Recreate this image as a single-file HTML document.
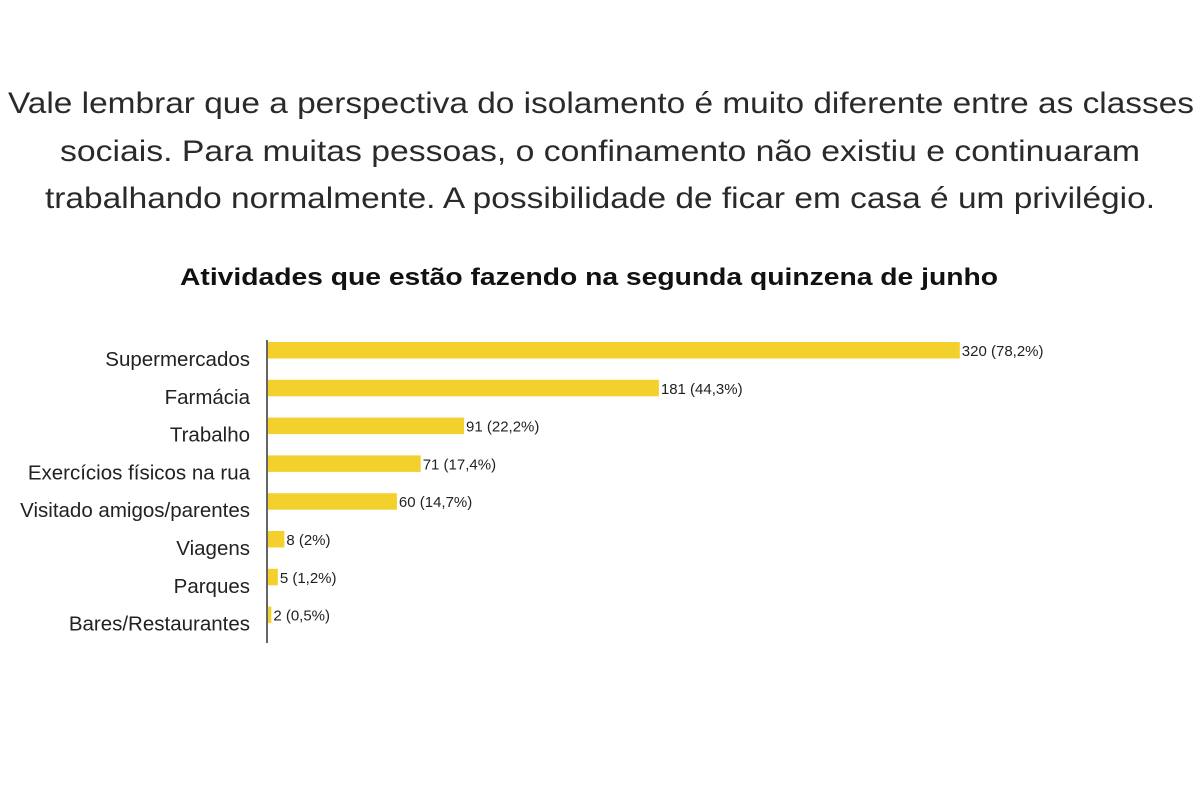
<!DOCTYPE html>
<html><head><meta charset="utf-8"><style>
html,body{margin:0;padding:0;background:#fff;}
svg{display:block;font-family:"Liberation Sans",sans-serif;}
</style></head><body>
<svg id="chart" width="1200" height="799" viewBox="0 0 1200 799">
<g fill="#2a2a2a" font-size="30" text-anchor="middle">
<text x="601" y="113" textLength="1186" lengthAdjust="spacingAndGlyphs">Vale lembrar que a perspectiva do isolamento é muito diferente entre as classes</text>
<text x="600" y="161" textLength="1080" lengthAdjust="spacingAndGlyphs">sociais. Para muitas pessoas, o confinamento não existiu e continuaram</text>
<text x="600" y="208" textLength="1110" lengthAdjust="spacingAndGlyphs">trabalhando normalmente. A possibilidade de ficar em casa é um privilégio.</text>
</g>
<text x="589" y="285" font-size="24" font-weight="bold" fill="#111" text-anchor="middle" textLength="818" lengthAdjust="spacingAndGlyphs">Atividades que estão fazendo na segunda quinzena de junho</text>
<g id="bars"></g>
<line x1="267" y1="340" x2="267" y2="643" stroke="#666" stroke-width="2"/>
</svg>
<script>
const categories = ["Supermercados","Farmácia","Trabalho","Exercícios físicos na rua","Visitado amigos/parentes","Viagens","Parques","Bares/Restaurantes"];
const values = [320,181,91,71,60,8,5,2];
const percentLabels = ["(78,2%)","(44,3%)","(22,2%)","(17,4%)","(14,7%)","(2%)","(1,2%)","(0,5%)"];
const NS="http://www.w3.org/2000/svg";
const x0=267, scale=2.165, y0=342, step=37.8, bh=16.5;
const xPos=v=>x0+v*scale;
const yPos=i=>y0+i*step;
const g=document.getElementById('bars');
categories.forEach((c,i)=>{
  const y=yPos(i);
  const r=document.createElementNS(NS,'rect');
  
  
  r.setAttribute('x',x0);r.setAttribute('y',y);
  r.setAttribute('width',xPos(values[i])-x0);r.setAttribute('height',bh);
  r.setAttribute('fill','#f3d02b');
  g.appendChild(r);
  const t=document.createElementNS(NS,'text');
  
  
  t.setAttribute('x',250);t.setAttribute('y',y+24);
  t.setAttribute('text-anchor','end');t.setAttribute('font-size','20.5');t.setAttribute('fill','#222');
  t.textContent=c;
  g.appendChild(t);
  const v=document.createElementNS(NS,'text');
  
  
  v.setAttribute('x',xPos(values[i])+2);v.setAttribute('y',y+14);
  v.setAttribute('font-size','15');v.setAttribute('fill','#222');
  v.textContent=values[i]+'  '+percentLabels[i];
  g.appendChild(v);
});
</script>
</body></html>
